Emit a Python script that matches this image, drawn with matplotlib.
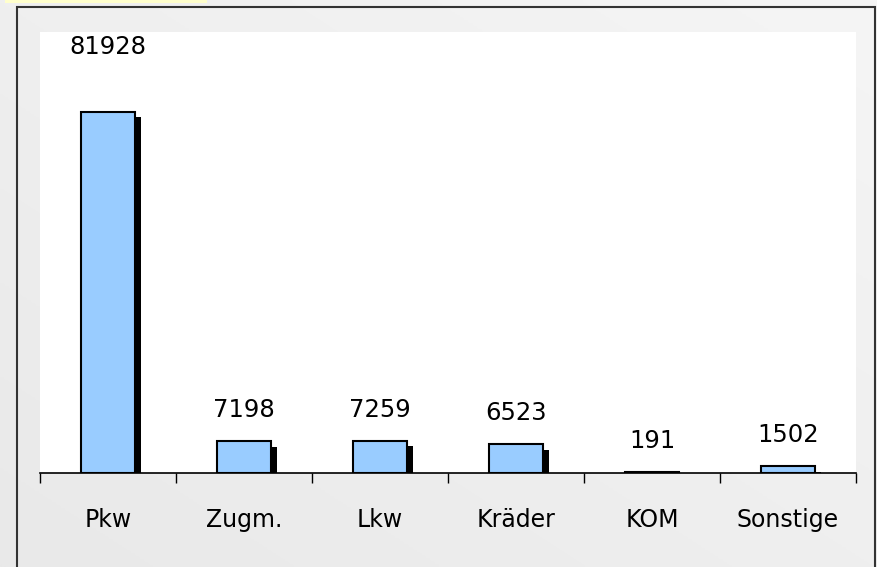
import numpy as np
import matplotlib
matplotlib.use('Agg')
import matplotlib.pyplot as plt
import matplotlib.patheffects as pe
from matplotlib.patches import Rectangle

categories = ['Pkw', 'Zugm.', 'Lkw', 'Kräder', 'KOM', 'Sonstige']
values = [81928, 7198, 7259, 6523, 191, 1502]
label_offsets = [65, 31, 31, 31, 31, 31]  # px above bar top

plt.rcParams['font.family'] = ['DejaVu Sans']

fig = plt.figure(figsize=(8.77, 5.67), dpi=100)

# grey gradient background
bg = fig.add_axes([0, 0, 1, 1], zorder=-10)
gx, gy = np.meshgrid(np.linspace(0, 1, 200), np.linspace(0, 1, 200))
grad = 0.5 * gx + 0.5 * gy
bg.imshow(grad, cmap=matplotlib.colors.LinearSegmentedColormap.from_list('g', ['#e9e9e9', '#f5f5f5']),
          extent=[0, 1, 0, 1], aspect='auto', origin='lower')
bg.set_xlim(0, 1)
bg.set_ylim(0, 1)
bg.axis('off')

W, H = 877, 567
# yellow strip top left
bg.add_patch(Rectangle((5 / W, 1 - 3 / H), 202 / W, 3 / H, color='#ffffcc', lw=0))
# frame
bg.add_patch(Rectangle((17 / W, -0.05), (875 - 17) / W, 1.05 - 7 / H,
                       fill=False, ec='#333333', lw=1.5))

ax = fig.add_axes([40 / W, 1 - 473 / H, (856 - 40) / W, (473 - 32) / H])
ax.set_facecolor('white')

x = np.arange(len(categories))
bars = ax.bar(x, values, width=0.4, color='#99ccff', edgecolor='black', linewidth=1.5,
              zorder=3)
for b in bars:
    b.set_path_effects([pe.SimplePatchShadow(offset=(4.5, -3.8), shadow_rgbFace='black', alpha=1),
                        pe.Normal()])

for xi, v, off in zip(x, values, label_offsets):
    ax.annotate(str(v), (xi, v), xytext=(0, off * 0.72), textcoords='offset points',
                ha='center', va='center', fontsize=17.5)

ax.set_xlim(-0.5, len(categories) - 0.5)
ax.set_ylim(0, 100000)
ax.set_yticks([])
for s in ['top', 'right', 'left']:
    ax.spines[s].set_visible(False)
ax.spines['bottom'].set_linewidth(1.2)
ax.spines['bottom'].set_zorder(5)

ax.set_xticks(x)
ax.set_xticklabels(categories, fontsize=17)
ax.tick_params(axis='x', which='major', length=0, pad=25)
ax.set_xticks(np.arange(-0.5, len(categories)), minor=True)
ax.tick_params(axis='x', which='minor', length=7, width=1, color='black', direction='out')

fig.savefig('out.png', dpi=100)
